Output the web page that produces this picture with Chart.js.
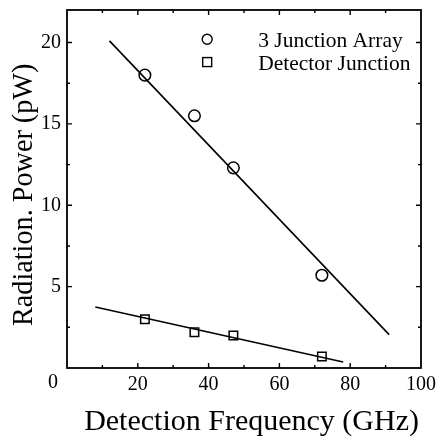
<!DOCTYPE html>
<html>
<head>
<meta charset="utf-8">
<script src="https://cdn.jsdelivr.net/npm/chart.js@4"></script>
<style>
  html, body { margin: 0; padding: 0; background: #fff; }
  #wrap { width: 438px; height: 436px; }
</style>
</head>
<body>
<div id="wrap"><canvas id="chart" width="438" height="436"></canvas></div>
<script>
// ===============================
// Data
// ===============================
const freq = [22, 36, 47, 72];                 // GHz
const arrayPower = [18.0, 15.5, 12.3, 5.7];    // 3 junction array, pW
const detectorPower = [3.0, 2.2, 2.0, 0.7];    // detector junction, pW

// straight fit lines (end points as drawn)
const arrayFitX = [12, 91];
const arrayFitY = [20.1, 2.05];
const detectorFitX = [8, 78];
const detectorFitY = [3.75, 0.37];

const xTicks = [0, 20, 40, 60, 80, 100];
const yTicks = [5, 10, 15, 20];
const legendLabels = ["3 Junction Array", "Detector Junction"];
const xTitle = "Detection Frequency (GHz)";
const yTitle = "Radiation. Power (pW)";

const serif = "'Liberation Serif', 'DejaVu Serif', serif";
const pts = (xs, ys) => xs.map((x, i) => ({ x: x, y: ys[i] }));

// ===============================
// Frame, inward ticks, titles, legend
// ===============================
const framePlugin = {
  id: "frame",
  afterDraw(chart) {
    const c = chart.ctx;
    const a = chart.chartArea;
    const xs = chart.scales.x, ys = chart.scales.y;
    c.save();
    c.strokeStyle = "#000";
    c.fillStyle = "#000";
    c.lineWidth = 1.8;
    c.strokeRect(a.left, a.top, a.right - a.left, a.bottom - a.top);

    c.lineWidth = 1.4;
    c.beginPath();
    // x ticks every 10, long at 20s
    for (let v = 10; v < 100; v += 10) {
      const px = xs.getPixelForValue(v);
      const len = v % 20 === 0 ? 5 : 3;
      c.moveTo(px, a.bottom); c.lineTo(px, a.bottom - len);
      c.moveTo(px, a.top); c.lineTo(px, a.top + len);
    }
    // y ticks every 2.5, long at 5s
    for (let v = 2.5; v < 22; v += 2.5) {
      const py = ys.getPixelForValue(v);
      const len = v % 5 === 0 ? 5 : 3;
      c.moveTo(a.left, py); c.lineTo(a.left + len, py);
      c.moveTo(a.right, py); c.lineTo(a.right - len, py);
    }
    c.stroke();

    // shared origin label
    c.font = "20px " + serif;
    c.textAlign = "center";
    c.textBaseline = "top";
    c.fillText("0", xs.getPixelForValue(0) - 14, a.bottom + 5);

    // axis titles
    c.font = "30px " + serif;
    c.textAlign = "right";
    c.textBaseline = "alphabetic";
    c.fillText(xTitle, a.right - 2, 430);

    c.save();
    c.translate(32, 326);
    c.rotate(-Math.PI / 2);
    c.scale(0.94, 1);
    c.textAlign = "left";
    c.fillText(yTitle, 0, 0);
    c.restore();

    // legend
    const lx = xs.getPixelForValue(39.6);
    const ly1 = ys.getPixelForValue(20.2);
    const ly2 = ys.getPixelForValue(18.8);
    c.lineWidth = 1.4;
    c.beginPath();
    c.arc(lx, ly1, 5, 0, Math.PI * 2);
    c.stroke();
    c.strokeRect(lx - 4.5, ly2 - 4.5, 9, 9);
    c.font = "21.5px " + serif;
    c.textAlign = "left";
    c.textBaseline = "middle";
    c.fillText(legendLabels[0], lx + 51, ly1 + 2);
    c.fillText(legendLabels[1], lx + 51, ly2 + 2);
    c.restore();
  }
};

// ===============================
// Chart
// ===============================
const ctx = document.getElementById("chart").getContext("2d");

const chart = new Chart(ctx, {
  type: "scatter",
  data: {
    datasets: [
      {
        label: legendLabels[0],
        data: pts(freq, arrayPower),
        pointStyle: "circle",
        pointRadius: 5.8,
        borderColor: "#000",
        borderWidth: 1.5,
        backgroundColor: "rgba(0,0,0,0)"
      },
      {
        label: legendLabels[1],
        data: pts(freq, detectorPower),
        pointStyle: "rect",
        pointRadius: 6,
        borderColor: "#000",
        borderWidth: 1.5,
        backgroundColor: "rgba(0,0,0,0)"
      },
      {
        label: "fit array",
        data: pts(arrayFitX, arrayFitY),
        showLine: true,
        pointRadius: 0,
        borderColor: "#000",
        borderWidth: 1.6
      },
      {
        label: "fit detector",
        data: pts(detectorFitX, detectorFitY),
        showLine: true,
        pointRadius: 0,
        borderColor: "#000",
        borderWidth: 1.6
      }
    ]
  },
  options: {
    responsive: false,
    animation: false,
    devicePixelRatio: 1,
    layout: { padding: { left: 0, right: 17, top: 10, bottom: 0 } },
    plugins: {
      legend: { display: false },
      tooltip: { enabled: false }
    },
    scales: {
      x: {
        type: "linear",
        min: 0,
        max: 100,
        afterBuildTicks: (s) => { s.ticks = xTicks.map(v => ({ value: v })); },
        afterFit: (s) => { s.height = 68; s.paddingLeft = 0; s.paddingRight = 0; },
        grid: { display: false, drawTicks: false },
        border: { display: false },
        ticks: {
          color: "#000",
          font: { family: serif, size: 20 },
          padding: 5,
          maxRotation: 0,
          callback: (v) => (v === 0 ? "" : v)
        }
      },
      y: {
        type: "linear",
        min: 0,
        max: 22,
        afterBuildTicks: (s) => { s.ticks = yTicks.map(v => ({ value: v })); },
        afterFit: (s) => { s.width = 67; s.paddingTop = 0; s.paddingBottom = 0; },
        grid: { display: false, drawTicks: false },
        border: { display: false },
        ticks: {
          color: "#000",
          font: { family: serif, size: 20 },
          padding: 6
        }
      }
    }
  },
  plugins: [framePlugin]
});
</script>
</body>
</html>
